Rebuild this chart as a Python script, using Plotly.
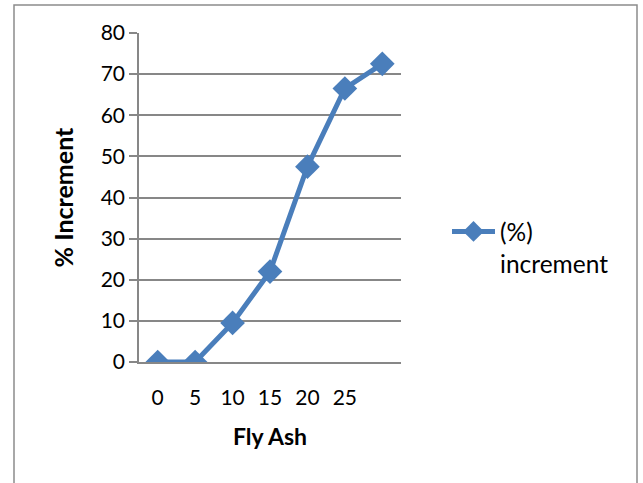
import plotly.graph_objects as go

categories = ["0", "5", "10", "15", "20", "25", ""]
increment = [0, 0, 9.5, 22, 47.5, 66.5, 72.5]
series_name = "(%)<br>increment"
x_title = "Fly Ash"
y_title = "% Increment"

FONT = "Lato, Open Sans, sans-serif"
GRID = "#878787"
BLUE = "#4A7EBB"

L, R, T, B = 139, 401, 33, 362
W, H = 643, 483
pw, ph = R - L, B - T

def px(x):
    return (x - L) / pw

def py(y):
    return (B - y) / ph

xs = list(range(len(categories)))

fig = go.Figure()
fig.add_trace(go.Scatter(
    x=xs, y=increment, mode="lines+markers", name=series_name,
    line=dict(color=BLUE, width=5),
    marker=dict(symbol="diamond", size=19, color=BLUE),
))

fig.update_layout(
    width=W, height=H,
    margin=dict(l=L, r=W - R, t=T, b=H - B, pad=0),
    paper_bgcolor="white", plot_bgcolor="white",
    font=dict(family=FONT, size=21, color="black"),
    showlegend=True,
    legend=dict(x=px(447), y=py(209), xanchor="left", yanchor="top",
                valign="top", font=dict(size=24.5), bgcolor="rgba(0,0,0,0)",
                itemwidth=43, tracegroupgap=0),
    xaxis=dict(
        range=[-0.5, len(categories) - 0.5],
        tickmode="array", tickvals=xs[:-1], ticktext=categories[:-1],
        showgrid=False, zeroline=False, showline=True,
        linecolor=GRID, linewidth=1.5, ticks="",
        tickfont=dict(size=21), ticklabelstandoff=16,
        title=dict(text=f"<b>{x_title}</b>", font=dict(size=23), standoff=21),
    ),
    yaxis=dict(
        range=[0, 80], dtick=10, tick0=0,
        showgrid=True, gridcolor=GRID, gridwidth=1.5,
        zeroline=False, showline=True, linecolor=GRID, linewidth=1.5,
        ticks="outside", ticklen=8, tickcolor=GRID, tickwidth=1.5,
        tickfont=dict(size=21),
        title=dict(text=f"<b>{y_title}</b>", font=dict(size=25), standoff=20),
    ),
    shapes=[dict(type="rect", xref="paper", yref="paper",
                 x0=px(14), x1=px(637), y0=py(495), y1=py(5),
                 line=dict(color="#8c8c8c", width=1.5), layer="below")],
)

fig.write_html("out.html", config={"displayModeBar": False},
               post_script="document.body.style.margin='0';")
